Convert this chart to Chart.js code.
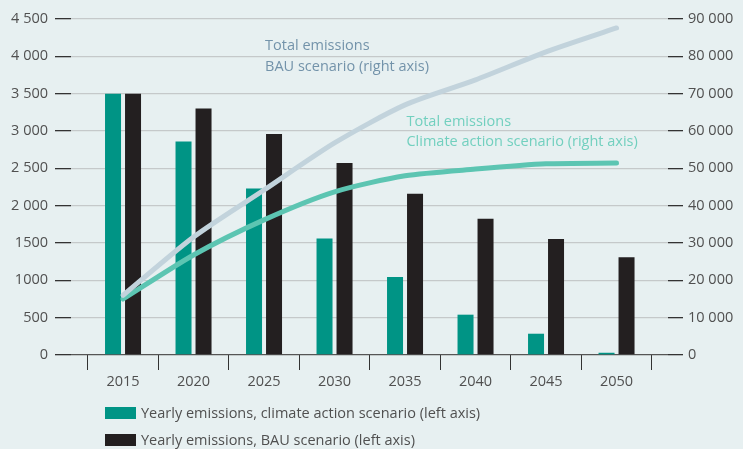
<!DOCTYPE html>
<html><head><meta charset="utf-8">
<script src="https://cdn.jsdelivr.net/npm/chart.js@4/dist/chart.umd.min.js"></script>
<style>html,body{margin:0;padding:0;background:#e7f0f1;}#wrap{width:743px;height:449px;position:relative;}</style>
</head><body><div id="wrap"><canvas id="c" width="743" height="449"></canvas></div>
<script>
const years = [2015, 2020, 2025, 2030, 2035, 2040, 2045, 2050];
const climateYearly = [3500, 2860, 2230, 1560, 1045, 540, 285, 30];
const bauYearly = [3500, 3300, 2960, 2570, 2160, 1825, 1555, 1310];
const bauTotal = [16000, 31600, 44200, 56800, 67000, 73700, 81200, 87600];
const climateTotal = [15000, 26800, 36200, 43700, 48000, 49800, 51200, 51400];
const leftTickLabels = ['0', '500', '1000', '1500', '2 000', '2 500', '3 000', '3 500', '4 000', '4 500'];
const rightTickLabels = ['0', '10 000', '20 000', '30 000', '40 000', '50 000', '60 000', '70 000', '80 000', '90 000'];
const barLabels = ['Yearly emissions, climate action scenario (left axis)', 'Yearly emissions, BAU scenario (left axis)'];
const lineLabels = [['Total emissions', 'BAU scenario (right axis)'], ['Total emissions', 'Climate action scenario (right axis)']];

const C_GREEN = '#009485', C_BLACK = '#231f20', C_CA = '#5cc5b2', C_BAU = '#c2d3dc';
const FONT = '"Open Sans", "Noto Sans", sans-serif';
const TXT = '#505050';
const boundaries = [years[0] - 2.5].concat(years.map(y => y + 2.5));
const pts = arr => years.map((y, i) => ({x: y, y: arr[i]}));

const bgPlugin = {
  id: 'bg',
  beforeDraw(chart) {
    const ctx = chart.ctx;
    ctx.save(); ctx.fillStyle = '#e7f0f1'; ctx.fillRect(0, 0, chart.width, chart.height); ctx.restore();
  }
};
const annotPlugin = {
  id: 'annot',
  afterDraw(chart) {
    const ctx = chart.ctx, xs = chart.scales.x, ys = chart.scales.y2;
    const notes = [
      {lines: lineLabels[0], x: 2025.07, y: 82800, color: '#7393aa'},
      {lines: lineLabels[1], x: 2035.1, y: 62500, color: '#72d0bf'}
    ];
    ctx.save();
    ctx.font = '14.5px ' + FONT;
    ctx.textBaseline = 'middle';
    ctx.textAlign = 'left';
    notes.forEach(n => {
      ctx.fillStyle = n.color;
      const px = xs.getPixelForValue(n.x), py = ys.getPixelForValue(n.y);
      n.lines.forEach((l, i) => ctx.fillText(l, px, py + i * 20.5));
    });
    // legend
    const ds = chart.data.datasets.filter(d => d.type === 'bar');
    ctx.font = '14.5px ' + FONT;
    ds.forEach((d, i) => {
      const top = 407 + i * 27;
      ctx.fillStyle = d.backgroundColor;
      ctx.fillRect(105, top, 31, 12);
      ctx.fillStyle = TXT;
      ctx.fillText(d.label, 141, top + 6.5);
    });
    ctx.restore();
  }
};

const barOpts = {categoryPercentage: 1.135, barPercentage: 0.8, order: 1, yAxisID: 'y', type: 'bar'};

new Chart(document.getElementById('c'), {
  data: {
    datasets: [
      {type: 'line', label: 'Total emissions BAU', data: pts(bauTotal), yAxisID: 'y2', borderColor: C_BAU, borderWidth: 5, pointRadius: 0, tension: 0.25, borderCapStyle: 'round', order: 0},
      {type: 'line', label: 'Total emissions climate', data: pts(climateTotal), yAxisID: 'y2', borderColor: C_CA, borderWidth: 5, pointRadius: 0, tension: 0.25, borderCapStyle: 'round', order: 0},
      Object.assign({label: barLabels[0], data: pts(climateYearly), backgroundColor: C_GREEN}, barOpts),
      Object.assign({label: barLabels[1], data: pts(bauYearly), backgroundColor: C_BLACK}, barOpts)
    ]
  },
  options: {
    responsive: false, animation: false, devicePixelRatio: 1,
    layout: {padding: {top: 19, left: 0, right: 0, bottom: 0}},
    plugins: {legend: {display: false}, tooltip: {enabled: false}},
    scales: {
      x: {
        type: 'linear', offset: false, min: years[0] - 3.69, max: years[years.length - 1] + 3.65,
        afterBuildTicks: s => { s.ticks = boundaries.concat(years).sort((a, b) => a - b).map(v => ({value: v})); },
        afterFit: s => { s.height = 94; },
        border: {display: false},
        grid: {offset: false, drawOnChartArea: false, drawTicks: true, tickLength: 15, lineWidth: 1,
          color: c => (c.tick && years.includes(c.tick.value)) ? 'rgba(0,0,0,0)' : '#333'},
        ticks: {autoSkip: false, maxRotation: 0, padding: 3, color: TXT, font: {family: FONT, size: 14.5},
          callback: v => years.includes(v) ? String(v) : ''}
      },
      y: {
        position: 'left', min: 0, max: 4500,
        afterBuildTicks: s => { s.ticks = leftTickLabels.map((_, i) => ({value: i * 500})); },
        afterFit: s => { s.width = 71; },
        border: {display: false},
        grid: {tickLength: 16, lineWidth: 1.3, tickColor: '#333',
          color: c => (c.tick && c.tick.value === 0) ? '#555' : '#c5c9ca'},
        ticks: {padding: 7, color: TXT, font: {family: FONT, size: 14.5}, callback: (v, i) => leftTickLabels[i]}
      },
      y2: {
        position: 'right', min: 0, max: 90000,
        afterBuildTicks: s => { s.ticks = rightTickLabels.map((_, i) => ({value: i * 10000})); },
        afterFit: s => { s.width = 75; },
        border: {display: false},
        grid: {drawOnChartArea: false, tickLength: 15, lineWidth: 1.3, color: '#333'},
        ticks: {padding: 5, color: TXT, font: {family: FONT, size: 14.5}, callback: (v, i) => rightTickLabels[i]}
      }
    }
  },
  plugins: [bgPlugin, annotPlugin]
});
</script></body></html>
